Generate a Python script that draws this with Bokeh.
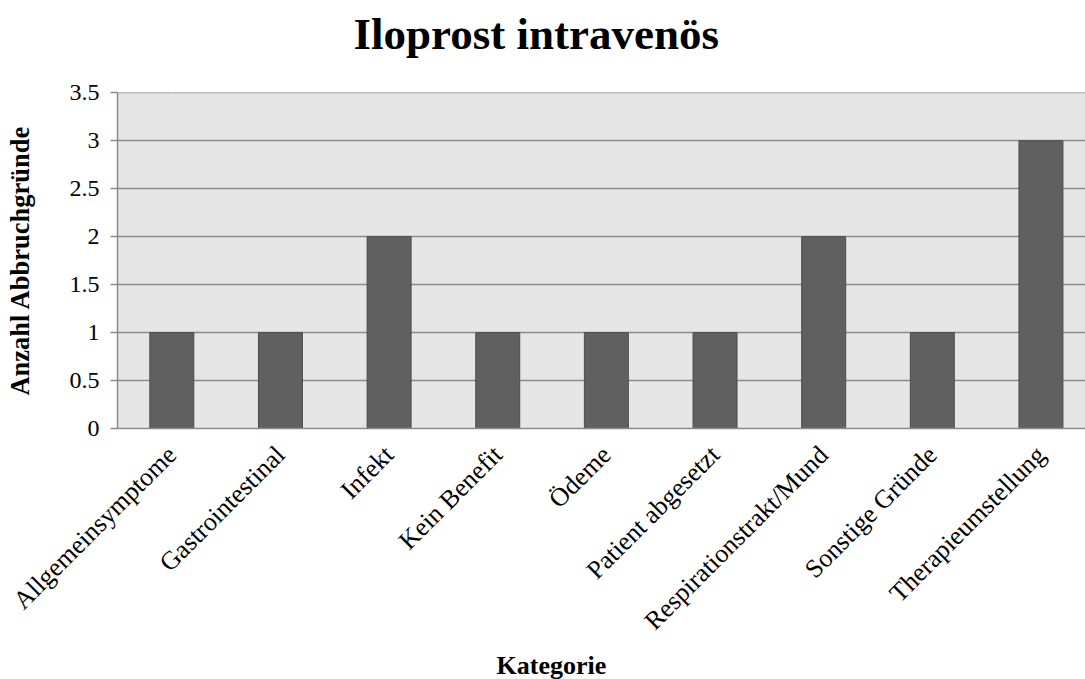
from math import pi
from bokeh.plotting import figure
from bokeh.models import Range1d, FixedTicker, Title, ColumnDataSource, LinearAxis
from bokeh.embed import file_html
from bokeh.resources import INLINE

# Data
categories = ["Allgemeinsymptome", "Gastrointestinal", "Infekt", "Kein Benefit",
              "Ödeme", "Patient abgesetzt", "Respirationstrakt/Mund",
              "Sonstige Gründe", "Therapieumstellung"]
counts = [1, 1, 2, 1, 1, 1, 2, 1, 3]
y_ticks = [0, 0.5, 1, 1.5, 2, 2.5, 3, 3.5]
y_tick_labels = ["0", "0.5", "1", "1.5", "2", "2.5", "3", "3.5"]
title_text = "Iloprost intravenös"
y_label = "Anzahl Abbruchgründe"
x_label = "Kategorie"

FONT = "Liberation Serif"
GRID = "#8a8a8a"

xpos = [i + 0.5 for i in range(len(categories))]
src = ColumnDataSource(dict(x=xpos, top=counts))

p = figure(width=1085, height=679, output_backend="svg", toolbar_location=None,
           x_range=Range1d(0, 8.91), y_range=Range1d(0, 3.503),
           min_border_left=117, min_border_right=0, min_border_top=92,
           min_border_bottom=251)

p.background_fill_color = "#e6e6e6"
p.border_fill_color = "white"
p.outline_line_color = None

p.vbar(x="x", top="top", width=0.405, bottom=0, source=src,
       fill_color="#606060", line_color="#4e4e4e", line_width=1)

# y axis
p.yaxis.ticker = FixedTicker(ticks=y_ticks)
p.yaxis.major_label_overrides = {t: l for t, l in zip(y_ticks, y_tick_labels)}
p.yaxis.major_label_text_font = FONT
p.yaxis.major_label_text_font_size = "24px"
p.yaxis.major_label_text_color = "black"
p.yaxis.major_tick_out = 7
p.yaxis.major_tick_in = 0
p.yaxis.minor_tick_line_color = None
p.yaxis.axis_line_color = GRID
p.yaxis.axis_line_width = 1.5
p.yaxis.major_tick_line_color = GRID
p.yaxis.major_tick_line_width = 1.5
p.yaxis.major_label_standoff = 11
p.yaxis.axis_label = y_label
p.yaxis.axis_label_text_font = FONT
p.yaxis.axis_label_text_font_style = "bold"
p.yaxis.axis_label_text_font_size = "26.5px"
p.yaxis.axis_label_text_color = "black"
p.yaxis.axis_label_standoff = 32

# x axis
p.xaxis.ticker = FixedTicker(ticks=xpos)
p.xaxis.major_label_overrides = {x: c for x, c in zip(xpos, categories)}
p.xaxis.major_label_orientation = pi / 4
p.xaxis.major_label_text_font = FONT
p.xaxis.major_label_text_font_size = "26px"
p.xaxis.major_label_text_color = "black"
p.xaxis.major_tick_out = 0
p.xaxis.major_tick_in = 0
p.xaxis.minor_tick_line_color = None
p.xaxis.axis_line_color = GRID
p.xaxis.axis_line_width = 1.5
p.xaxis.major_label_standoff = 22

p.xgrid.grid_line_color = None
p.ygrid.grid_line_color = GRID
p.ygrid.grid_line_width = 1.5

# invisible spacer (white tick on white border) between the frame and the title
spacer = LinearAxis(ticker=FixedTicker(ticks=[0.5]), axis_line_color=None,
                    major_tick_out=34, major_tick_in=0, major_tick_line_color="white",
                    minor_tick_line_color=None, major_label_standoff=0,
                    major_label_overrides={0.5: ""}, major_label_text_font_size="1px")
p.add_layout(spacer, "above")

p.add_layout(Title(text=title_text, text_font=FONT, text_font_style="bold",
                   text_font_size="45px", align="left", offset=236,
                   vertical_align="bottom", standoff=0, text_color="black"), "above")

p.add_layout(Title(text=x_label, text_font=FONT, text_font_style="bold",
                   text_font_size="26px", align="left", offset=379,
                   standoff=0, text_color="black"), "below")

open("out.html", "w").write(file_html(p, INLINE))
